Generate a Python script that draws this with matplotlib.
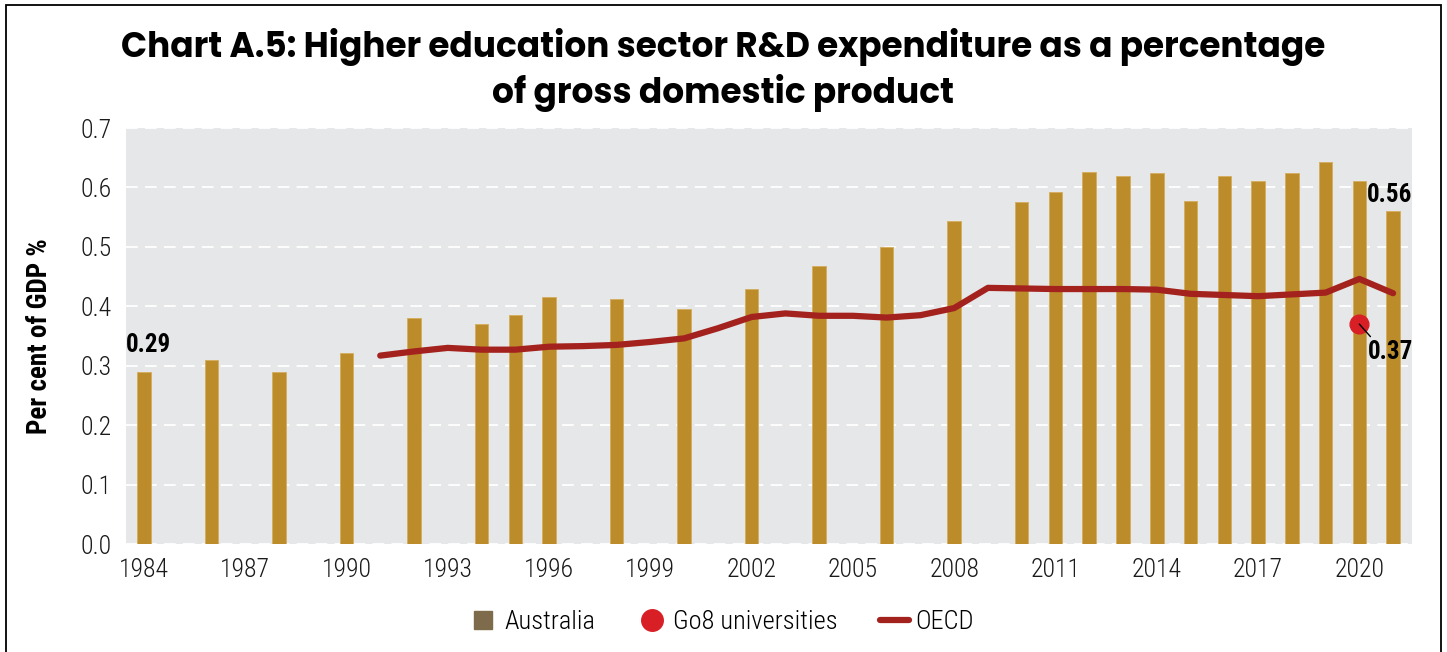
import matplotlib
matplotlib.use("Agg")
import matplotlib.pyplot as plt
from matplotlib import font_manager
from matplotlib.lines import Line2D
from matplotlib.patches import Rectangle

# Australia: HERD as % of GDP
aus_years = [1984, 1986, 1988, 1990, 1992, 1994, 1995, 1996, 1998, 2000, 2002, 2004,
             2006, 2008, 2010, 2011, 2012, 2013, 2014, 2015, 2016, 2017, 2018, 2019,
             2020, 2021]
aus_values = [0.29, 0.31, 0.29, 0.321, 0.381, 0.370, 0.386, 0.415, 0.412, 0.395, 0.429,
              0.468, 0.500, 0.543, 0.575, 0.593, 0.626, 0.620, 0.625, 0.577, 0.619,
              0.610, 0.625, 0.643, 0.610, 0.560]

oecd_years = list(range(1991, 2022))
oecd_values = [0.317, 0.324, 0.330, 0.327, 0.327, 0.332, 0.333, 0.335, 0.340, 0.346,
               0.363, 0.382, 0.388, 0.384, 0.384, 0.381, 0.385, 0.397, 0.431, 0.430,
               0.429, 0.429, 0.429, 0.428, 0.421, 0.419, 0.417, 0.420, 0.423, 0.446,
               0.422]

go8_year = 2020
go8_value = 0.37

xtick_years = list(range(1984, 2021, 3))
yticks = [0.0, 0.1, 0.2, 0.3, 0.4, 0.5, 0.6, 0.7]

installed = {f.name for f in font_manager.fontManager.ttflist}


def pick(*names):
    for n in names:
        if n in installed:
            return n
    return "DejaVu Sans"


cond = pick("Roboto Condensed", "Liberation Sans Narrow", "Roboto")
title_font = pick("Poppins", "Inter", "Open Sans")

BAR = "#bc8c2b"
LINE = "#a4221e"
DOT = "#d91f26"
BG = "#e6e7e8"

fig = plt.figure(figsize=(14.47, 6.52), dpi=100)
ax = fig.add_axes([126 / 1447, 1 - 544 / 652, (1412 - 126) / 1447, (544 - 128) / 652])
ax.set_facecolor(BG)

ax.bar(aus_years, aus_values, width=0.4, color=BAR, edgecolor="#d4ad5c",
       linewidth=0.6, zorder=2)
ax.plot(oecd_years, oecd_values, color=LINE, lw=4.5, solid_capstyle="round",
        solid_joinstyle="round", zorder=3)
ax.plot([go8_year], [go8_value], "o", color=DOT, ms=13.5, zorder=4)

ax.set_xlim(1983.47, 2021.56)
ax.set_ylim(0, 0.7)
ax.set_xticks(xtick_years)
ax.set_yticks(yticks)
ax.set_yticklabels([f"{v:.1f}" for v in yticks])
ax.tick_params(length=0, labelsize=18.5, colors="#1a1a1a", pad=10)
for lab in ax.get_xticklabels() + ax.get_yticklabels():
    lab.set_family(cond)
    lab.set_fontweight("light")

for s in ax.spines.values():
    s.set_visible(False)
ax.set_axisbelow(True)
ax.yaxis.grid(True, color="white", lw=1.3, linestyle=(0, (6.5, 4)))
ax.xaxis.grid(False)

ax.set_ylabel("Per cent of GDP %", family=cond, fontweight="bold", fontsize=19.5,
              labelpad=20)

lab_kw = dict(family=cond, fontweight="bold", fontsize=18, color="black")
ax.annotate("0.29", xy=(aus_years[0], aus_values[0]), xytext=(-13, 19),
            textcoords="offset points", ha="left", va="center", **lab_kw)
ax.annotate("0.56", xy=(aus_years[-1], aus_values[-1]), xytext=(-19, 12),
            textcoords="offset points", ha="left", va="center", **lab_kw)
ax.annotate("", xy=(go8_year, go8_value), xytext=(8, -9),
            textcoords="offset points",
            arrowprops=dict(arrowstyle="-", color="black", lw=1.0, shrinkA=0, shrinkB=0),
            zorder=5)
ax.annotate("0.37", xy=(go8_year, go8_value), xytext=(6, -20),
            textcoords="offset points", ha="left", va="center", **lab_kw)

fig.text(0.5, 0.893, "Chart A.5: Higher education sector R&D expenditure as a percentage\n"
         "of gross domestic product", ha="center", va="center", family=title_font,
         fontweight="bold", fontsize=24.7, linespacing=1.28)

handles = [
    Line2D([], [], marker="s", ls="none", color="#7d6b4b", ms=13),
    Line2D([], [], marker="o", ls="none", color=DOT, ms=15.5),
    Line2D([], [], color=LINE, lw=4.5, solid_capstyle="round"),
]
fig.legend(handles, ["Australia", "Go8 universities", "OECD"], loc="center",
           bbox_to_anchor=(0.4986, 1 - 622 / 652), ncol=3, frameon=False,
           prop={"family": cond, "weight": "light", "size": 19},
           handlelength=1.1, handletextpad=0.25, columnspacing=1.6)

fig.patches.append(Rectangle((6 / 1447, -0.1), (1441 - 6) / 1447, 1.1 - 5 / 652,
                             transform=fig.transFigure, fill=False,
                             edgecolor="black", lw=1.3))

fig.savefig("out.png", dpi=100)
